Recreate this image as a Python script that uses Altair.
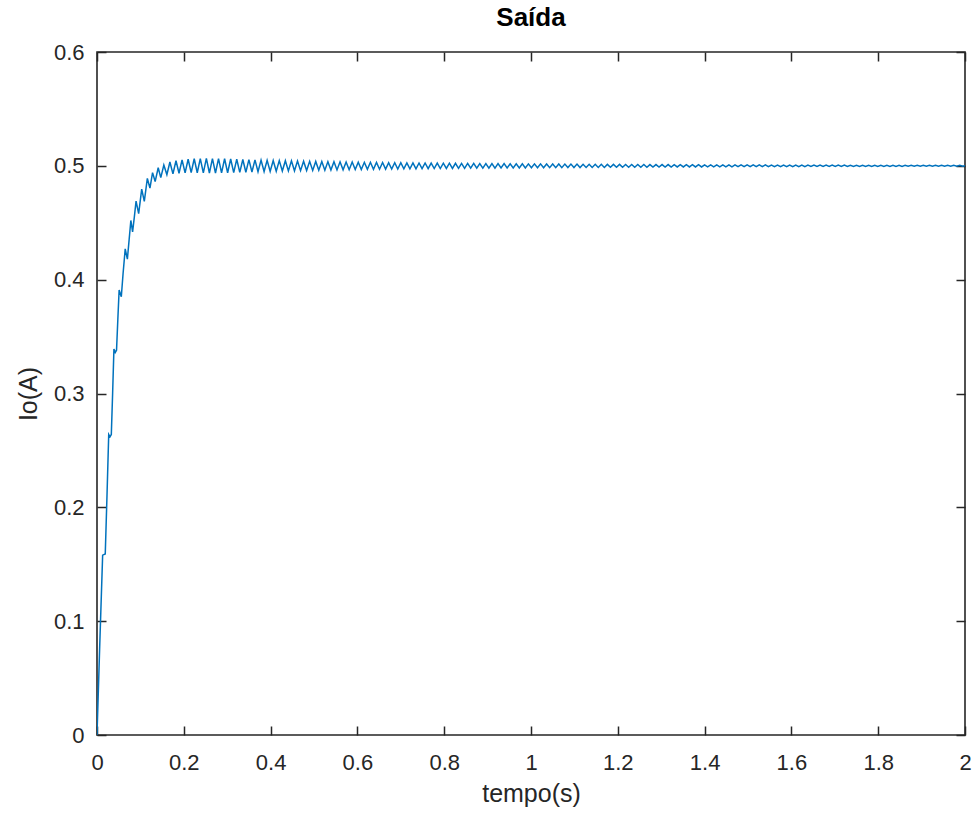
import altair as alt
import pandas as pd

# ---------------- data ----------------
# start-up (staircase) part of the response
t_early = [0.000, 0.006, 0.013, 0.019, 0.023, 0.027, 0.030, 0.033, 0.036, 0.039,
           0.042, 0.045, 0.048, 0.051, 0.056, 0.060, 0.065, 0.070, 0.074, 0.078,
           0.082, 0.086, 0.090, 0.096, 0.103, 0.109, 0.116, 0.122, 0.128, 0.134,
           0.141, 0.147, 0.154, 0.161]
i_early = [0.000, 0.075, 0.158, 0.159, 0.210, 0.264, 0.262, 0.264, 0.300, 0.339,
           0.336, 0.338, 0.365, 0.391, 0.385, 0.405, 0.427, 0.418, 0.435, 0.452,
           0.442, 0.455, 0.469, 0.458, 0.4795, 0.4687, 0.4889, 0.4805, 0.4940, 0.4862,
           0.4983, 0.4896, 0.5007, 0.4923]

# ripple: peak instants and values
t_peaks = [0.168, 0.182, 0.196, 0.210, 0.224, 0.238, 0.252, 0.266, 0.280, 0.294,
           0.308, 0.322, 0.336, 0.350, 0.364, 0.378, 0.392, 0.406, 0.420, 0.434,
           0.448, 0.462, 0.476, 0.490, 0.504, 0.518, 0.532, 0.546, 0.560, 0.574,
           0.588, 0.602, 0.616, 0.630, 0.644, 0.658, 0.672, 0.686, 0.700, 0.714,
           0.728, 0.742, 0.756, 0.770, 0.784, 0.798, 0.812, 0.826, 0.840, 0.854,
           0.868, 0.882, 0.896, 0.910, 0.924, 0.938, 0.952, 0.966, 0.980, 0.994,
           1.008, 1.022, 1.036, 1.050, 1.064, 1.078, 1.092, 1.106, 1.120, 1.134,
           1.148, 1.162, 1.176, 1.190, 1.204, 1.218, 1.232, 1.246, 1.260, 1.274,
           1.288, 1.302, 1.316, 1.330, 1.344, 1.358, 1.372, 1.386, 1.400, 1.414,
           1.428, 1.442, 1.456, 1.470, 1.484, 1.498, 1.512, 1.526, 1.540, 1.554,
           1.568, 1.582, 1.596, 1.610, 1.624, 1.638, 1.652, 1.666, 1.680, 1.694,
           1.708, 1.722, 1.736, 1.750, 1.764, 1.778, 1.792, 1.806, 1.820, 1.834,
           1.848, 1.862, 1.876, 1.890, 1.904, 1.918, 1.932, 1.946, 1.960, 1.974,
           1.988]
i_peaks = [0.5034, 0.5045, 0.5052, 0.5058, 0.5062, 0.5064, 0.5065, 0.5064, 0.5063, 0.5062,
           0.5060, 0.5058, 0.5056, 0.5054, 0.5052, 0.5050, 0.5049, 0.5047, 0.5046, 0.5045,
           0.5044, 0.5042, 0.5041, 0.5040, 0.5039, 0.5038, 0.5037, 0.5036, 0.5035, 0.5034,
           0.5033, 0.5032, 0.5031, 0.5031, 0.5030, 0.5029, 0.5028, 0.5028, 0.5027, 0.5026,
           0.5026, 0.5025, 0.5025, 0.5024, 0.5024, 0.5023, 0.5023, 0.5022, 0.5022, 0.5021,
           0.5021, 0.5020, 0.5020, 0.5020, 0.5019, 0.5019, 0.5018, 0.5018, 0.5018, 0.5017,
           0.5017, 0.5017, 0.5016, 0.5016, 0.5016, 0.5015, 0.5015, 0.5015, 0.5014, 0.5014,
           0.5014, 0.5014, 0.5013, 0.5013, 0.5013, 0.5012, 0.5012, 0.5012, 0.5012, 0.5011,
           0.5011, 0.5011, 0.5011, 0.5010, 0.5010, 0.5010, 0.5010, 0.5010, 0.5009, 0.5009,
           0.5009, 0.5009, 0.5009, 0.5008, 0.5008, 0.5008, 0.5008, 0.5008, 0.5008, 0.5007,
           0.5007, 0.5007, 0.5007, 0.5007, 0.5007, 0.5006, 0.5006, 0.5006, 0.5006, 0.5006,
           0.5006, 0.5006, 0.5005, 0.5005, 0.5005, 0.5005, 0.5005, 0.5005, 0.5005, 0.5005,
           0.5005, 0.5004, 0.5004, 0.5004, 0.5004, 0.5004, 0.5004, 0.5004, 0.5004, 0.5004,
           0.5004]

# ripple: trough instants and values
t_troughs = [0.175, 0.189, 0.203, 0.217, 0.231, 0.245, 0.259, 0.273, 0.287, 0.301,
             0.315, 0.329, 0.343, 0.357, 0.371, 0.385, 0.399, 0.413, 0.427, 0.441,
             0.455, 0.469, 0.483, 0.497, 0.511, 0.525, 0.539, 0.553, 0.567, 0.581,
             0.595, 0.609, 0.623, 0.637, 0.651, 0.665, 0.679, 0.693, 0.707, 0.721,
             0.735, 0.749, 0.763, 0.777, 0.791, 0.805, 0.819, 0.833, 0.847, 0.861,
             0.875, 0.889, 0.903, 0.917, 0.931, 0.945, 0.959, 0.973, 0.987, 1.001,
             1.015, 1.029, 1.043, 1.057, 1.071, 1.085, 1.099, 1.113, 1.127, 1.141,
             1.155, 1.169, 1.183, 1.197, 1.211, 1.225, 1.239, 1.253, 1.267, 1.281,
             1.295, 1.309, 1.323, 1.337, 1.351, 1.365, 1.379, 1.393, 1.407, 1.421,
             1.435, 1.449, 1.463, 1.477, 1.491, 1.505, 1.519, 1.533, 1.547, 1.561,
             1.575, 1.589, 1.603, 1.617, 1.631, 1.645, 1.659, 1.673, 1.687, 1.701,
             1.715, 1.729, 1.743, 1.757, 1.771, 1.785, 1.799, 1.813, 1.827, 1.841,
             1.855, 1.869, 1.883, 1.897, 1.911, 1.925, 1.939, 1.953, 1.967, 1.981,
             1.995]
i_troughs = [0.4929, 0.4935, 0.4938, 0.4940, 0.4939, 0.4938, 0.4937, 0.4937, 0.4938, 0.4939,
             0.4940, 0.4942, 0.4944, 0.4946, 0.4948, 0.4950, 0.4951, 0.4953, 0.4954, 0.4955,
             0.4956, 0.4958, 0.4959, 0.4960, 0.4961, 0.4962, 0.4963, 0.4964, 0.4965, 0.4966,
             0.4967, 0.4968, 0.4969, 0.4969, 0.4970, 0.4971, 0.4972, 0.4972, 0.4973, 0.4974,
             0.4974, 0.4975, 0.4975, 0.4976, 0.4976, 0.4977, 0.4977, 0.4978, 0.4978, 0.4979,
             0.4979, 0.4980, 0.4980, 0.4980, 0.4981, 0.4981, 0.4982, 0.4982, 0.4982, 0.4983,
             0.4983, 0.4983, 0.4984, 0.4984, 0.4984, 0.4985, 0.4985, 0.4985, 0.4986, 0.4986,
             0.4986, 0.4986, 0.4987, 0.4987, 0.4987, 0.4988, 0.4988, 0.4988, 0.4988, 0.4989,
             0.4989, 0.4989, 0.4989, 0.4990, 0.4990, 0.4990, 0.4990, 0.4990, 0.4991, 0.4991,
             0.4991, 0.4991, 0.4991, 0.4992, 0.4992, 0.4992, 0.4992, 0.4992, 0.4992, 0.4993,
             0.4993, 0.4993, 0.4993, 0.4993, 0.4993, 0.4994, 0.4994, 0.4994, 0.4994, 0.4994,
             0.4994, 0.4994, 0.4995, 0.4995, 0.4995, 0.4995, 0.4995, 0.4995, 0.4995, 0.4995,
             0.4995, 0.4996, 0.4996, 0.4996, 0.4996, 0.4996, 0.4996, 0.4996, 0.4996, 0.4996,
             0.4996]

t_end = [2.000]
i_end = [0.5000]

x_ticks = [0, 0.2, 0.4, 0.6, 0.8, 1, 1.2, 1.4, 1.6, 1.8, 2]
y_ticks = [0, 0.1, 0.2, 0.3, 0.4, 0.5, 0.6]

# ---------------- build table ----------------
t_all, i_all = list(t_early), list(i_early)
for tp, ip, tt, it in zip(t_peaks, i_peaks, t_troughs, i_troughs):
    t_all += [tp, tt]
    i_all += [ip, it]
t_all += t_end
i_all += i_end
df = pd.DataFrame({"t": t_all, "io": i_all, "k": range(len(t_all))})

W, H = 868, 683
TICK = 9
TXT = "#262626"
FONT = "Liberation Sans"

xs = alt.Scale(domain=[0, 2], nice=False, zero=False)
ys = alt.Scale(domain=[0, 0.6], nice=False, zero=False)

# ticks are drawn outward from an axis line shifted inward by the tick length,
# so they end up pointing into the plot like MATLAB's
base_axis = dict(domain=False, grid=False, labelFlush=False, offset=-TICK,
                 tickSize=TICK, tickWidth=1.5, tickColor=TXT,
                 labelFont=FONT, titleFont=FONT, labelFontSize=22,
                 titleFontSize=25, labelColor=TXT, titleColor=TXT,
                 titleFontWeight="normal",
                 labelExpr="format(datum.value, '~g')")

line = alt.Chart(df).mark_line(color="#0072BD", strokeWidth=1.5, clip=True).encode(
    x=alt.X("t:Q", scale=xs, title="tempo(s)",
            axis=alt.Axis(values=x_ticks, orient="bottom", labelPadding=17,
                          titlePadding=8, **base_axis)),
    y=alt.Y("io:Q", scale=ys, title="Io(A)",
            axis=alt.Axis(values=y_ticks, orient="left", labelPadding=13,
                          titlePadding=12, **base_axis)),
    order="k:Q",
)

xt = pd.DataFrame({"v": x_ticks})
yt = pd.DataFrame({"v": y_ticks})

# invisible carriers for the top and right tick rows
top_ticks = alt.Chart(xt).mark_point(opacity=0).encode(
    x=alt.X("v:Q", scale=xs, title=None,
            axis=alt.Axis(values=x_ticks, orient="top", domain=False, grid=False,
                          labels=False, offset=-TICK, tickSize=TICK,
                          tickWidth=1.5, tickColor=TXT)))
right_ticks = alt.Chart(yt).mark_point(opacity=0).encode(
    y=alt.Y("v:Q", scale=ys, title=None,
            axis=alt.Axis(values=y_ticks, orient="right", domain=False, grid=False,
                          labels=False, offset=-TICK, tickSize=TICK,
                          tickWidth=1.5, tickColor=TXT)))

chart = alt.layer(line, top_ticks, right_ticks).resolve_axis(
    x="independent", y="independent"
).properties(
    width=W, height=H,
    title=alt.TitleParams("Saída", fontSize=26, fontWeight="bold", color="#000000",
                          font=FONT, anchor="middle", frame="group", offset=10),
    autosize=alt.AutoSizeParams(type="none"),
    padding={"left": 97, "top": 52, "right": 9, "bottom": 86},
).configure(
    background="white",
    view=alt.ViewConfig(stroke=TXT, strokeWidth=1.6),
)

chart.save("out.html", embed_options={"renderer": "svg", "actions": False})
